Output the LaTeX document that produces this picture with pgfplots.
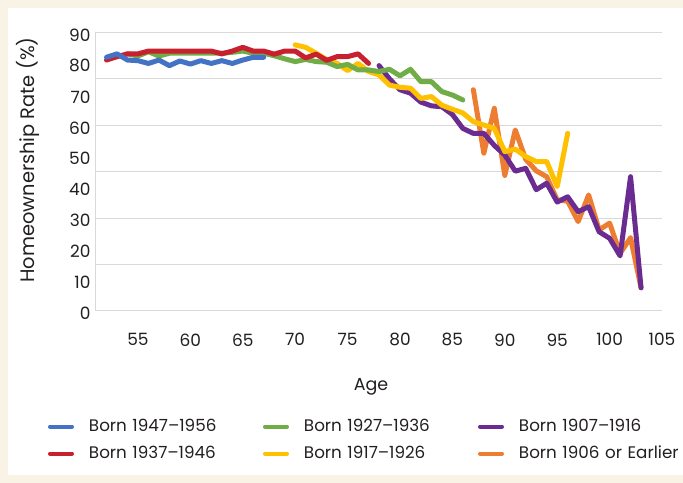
\documentclass[border=0pt]{standalone}
\usepackage{fontspec}
\setmainfont{Poppins}
\usepackage{pgfplots}
\pgfplotsset{compat=1.18}
\definecolor{cream}{HTML}{F8F3E5}
\definecolor{gridgray}{HTML}{D9D9D9}
\definecolor{textcol}{HTML}{231F20}
\definecolor{cblue}{HTML}{4472C4}
\definecolor{cred}{HTML}{C8202F}
\definecolor{cgreen}{HTML}{70AD47}
\definecolor{cyellow}{HTML}{FFC000}
\definecolor{cpurple}{HTML}{6B2C91}
\definecolor{corange}{HTML}{ED7D31}
\begin{document}
\begin{tikzpicture}
\path[use as bounding box] (0,0) rectangle (683bp,483bp);
\fill[cream] (0,0) rectangle (683bp,483bp);
\fill[white] (8bp,8bp) rectangle (683bp,475bp);
\begin{axis}[
  at={(95bp,172bp)}, anchor=south west, scale only axis,
  width=567bp, height=278.5bp,
  xmin=50.9, xmax=105, ymin=0, ymax=90,
  axis x line*=bottom, axis y line*=left,
  axis line style={draw=gridgray, line width=1bp},
  xtick={55,60,...,105}, ytick={0,10,...,90},
  major tick length=0pt, tick style={draw=none},
  extra y ticks={15,30,45,60,75,90}, extra y tick labels={},
  extra y tick style={grid=major, major grid style={draw=gridgray, line width=1bp}},
  /pgf/number format/assume math mode=true,
  ticklabel style={font=\fontsize{17}{20}\selectfont, text=textcol},
  yticklabel style={yshift=-2.5bp, xshift=-1bp},
  xticklabel style={yshift=-19bp},
  xlabel={Age}, ylabel={Homeownership Rate (\%)},
  xlabel style={at={(axis description cs:0.487,-0.272)}, anchor=center, font=\fontsize{17.5}{20}\selectfont, text=textcol},
  ylabel style={at={(axis description cs:-0.118,0.542)}, anchor=center, font=\fontsize{19.5}{22}\selectfont, text=textcol},
  clip=false,
  every axis plot/.append style={line width=5bp, line join=round, line cap=round, mark=none},
  legend columns=3,
  legend image code/.code={\draw[#1, line width=4bp, line cap=round] (2bp,5bp) -- (24bp,5bp);},
  legend style={draw=none, fill=none, inner sep=0pt, outer sep=0pt,
    at={(axis description cs:-0.0829,-0.39)}, anchor=north west,
    row sep=11bp,
    font=\fontsize{16.8}{19}\selectfont,
    nodes={inner sep=0pt, anchor=base west, text width=174bp, align=left, text height=12bp, text depth=4bp, text=textcol},
    /tikz/every odd column/.style={column sep=15bp}},
]
% Born 1906 or Earlier
\addplot[corange, forget plot] coordinates {(87,71.5)(88,51)(89,65.5)(90,43.8)(91,58.5)(92,49)(93,45.3)(94,43.4)(95,35.9)(96,35.5)(97,28.9)(98,37.5)(99,26.2)(100,28.4)(101,18.6)(102,23.7)(103,7.5)};
% Born 1907-1916
\addplot[cpurple, forget plot] coordinates {(78,79.3)(79,75)(80,71.5)(81,70.4)(82,67.5)(83,66.3)(84,66)(85,63.5)(86,59)(87,57.4)(88,57.4)(89,53.5)(90,50.4)(91,45.2)(92,46.1)(93,39.2)(94,41.3)(95,35.2)(96,36.9)(97,32.1)(98,33.7)(99,25.6)(100,23.5)(101,17.8)(102,43.4)(103,7.5)};
% Born 1917-1926
\addplot[cyellow, forget plot] coordinates {(70,86)(71,85.2)(72,83.3)(73,81.3)(74,80)(75,77.7)(76,80)(77,77.4)(78,76.3)(79,73)(80,72.3)(81,72)(82,68.7)(83,69.3)(84,66.5)(85,65.2)(86,64)(87,61.2)(88,60.1)(89,59)(90,51.5)(91,52.3)(92,49.9)(93,48.3)(94,48.3)(95,40.2)(96,57.4)};
% Born 1927-1936
\addplot[cgreen, forget plot] coordinates {(54,83.1)(55,82.4)(56,83.8)(57,82.4)(58,83.3)(59,83.3)(60,83.3)(61,83.3)(62,83.3)(63,83.3)(64,83.6)(65,84)(66,83.3)(67,83.3)(68,82.5)(69,81.5)(70,80.6)(71,81.3)(72,80.6)(73,80.4)(74,79)(75,79.7)(76,77.9)(77,77.9)(78,77.4)(79,78.1)(80,76)(81,78.1)(82,74.1)(83,74.1)(84,70.9)(85,69.8)(86,68.2)};
% Born 1937-1946
\addplot[cred, forget plot] coordinates {(52,81.1)(53,82.2)(54,83.1)(55,83.1)(56,84)(57,84)(58,84)(59,84)(60,84)(61,84)(62,84)(63,83.1)(64,84)(65,85.2)(66,84)(67,84)(68,83)(69,84)(70,84)(71,81.8)(72,83)(73,81)(74,82.2)(75,82.2)(76,83.1)(77,80)};
% Born 1947-1956
\addplot[cblue, forget plot] coordinates {(52,82)(53,83.1)(54,81.1)(55,80.9)(56,80)(57,81.1)(58,79.3)(59,80.8)(60,79.8)(61,80.9)(62,80)(63,80.9)(64,80)(65,81.1)(66,82)(67,82)};
\addlegendimage{cblue}\addlegendentry{Born 1947–1956}
\addlegendimage{cgreen}\addlegendentry{Born 1927–1936}
\addlegendimage{cpurple}\addlegendentry{Born 1907–1916}
\addlegendimage{cred}\addlegendentry{Born 1937–1946}
\addlegendimage{cyellow}\addlegendentry{Born 1917–1926}
\addlegendimage{corange}\addlegendentry{Born 1906 or Earlier}
\end{axis}
\end{tikzpicture}
\end{document}
